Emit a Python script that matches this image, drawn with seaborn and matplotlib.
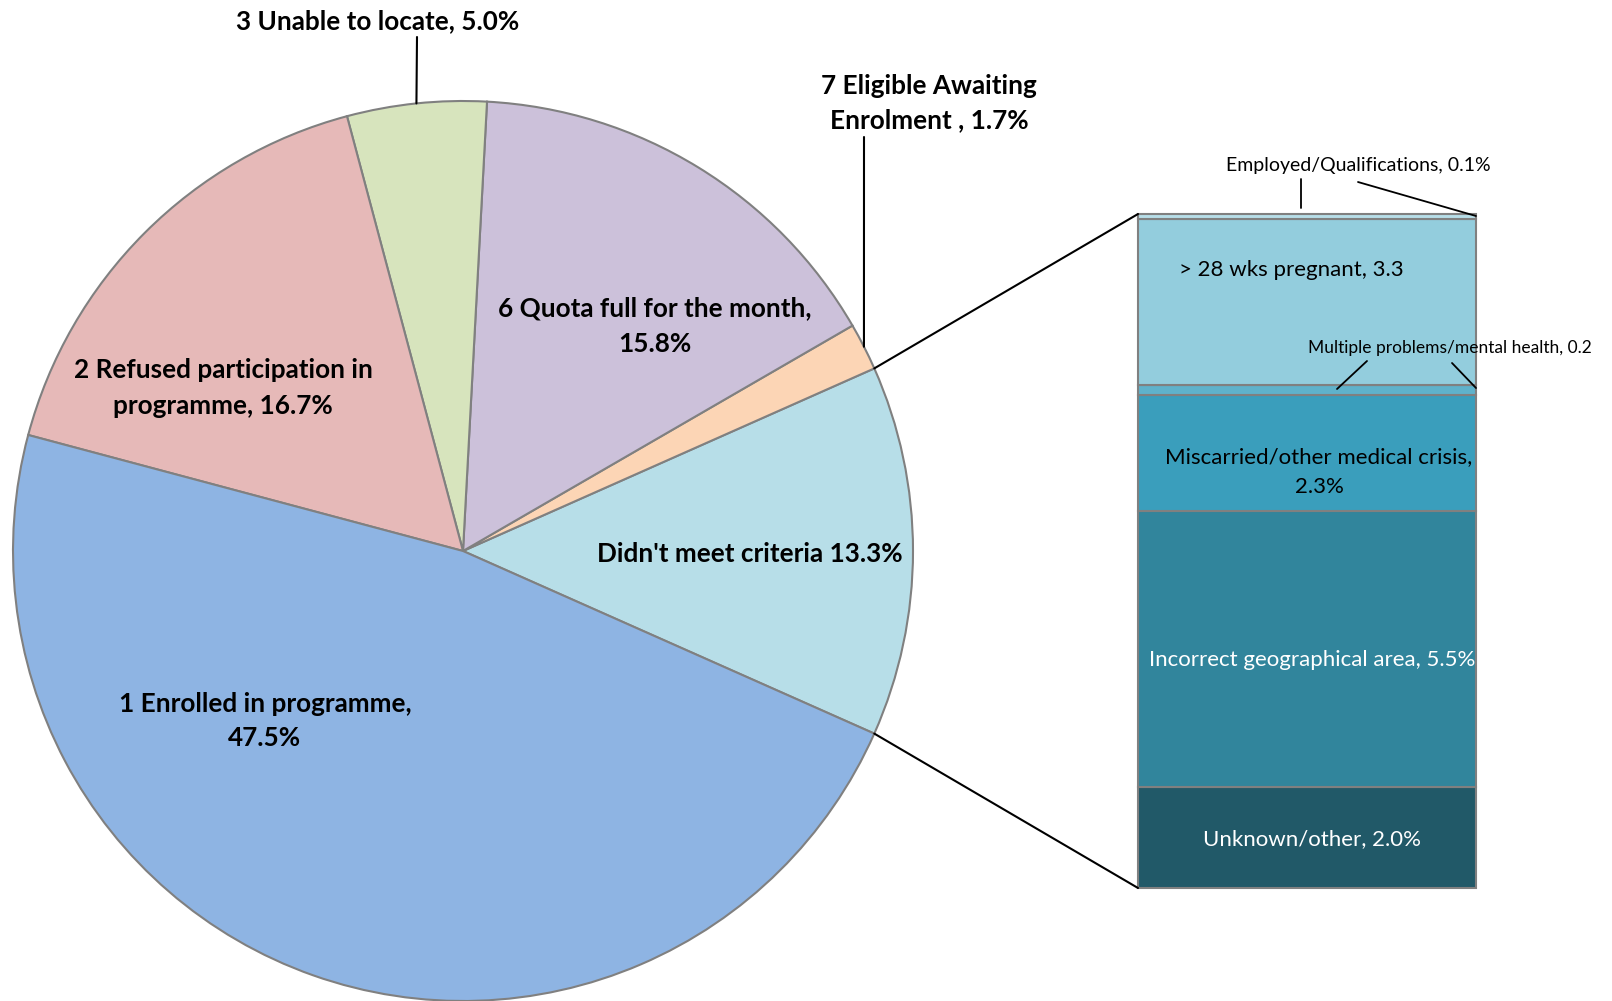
import numpy as np
import matplotlib.pyplot as plt
import seaborn as sns
from matplotlib.patches import ConnectionPatch
from matplotlib.lines import Line2D

# Pie data (counter-clockwise from the split-off slice)
pie_labels = ["Didn't meet criteria 13.3%",
              "7 Eligible Awaiting\nEnrolment , 1.7%",
              "6 Quota full for the month,\n15.8%",
              "3 Unable to locate, 5.0%",
              "2 Refused participation in\nprogramme, 16.7%",
              "1 Enrolled in programme,\n47.5%"]
pie_values = [13.3, 1.7, 15.8, 5.0, 16.7, 47.5]
pie_colors = ["#B7DEE8", "#FCD5B5", "#CCC1DA", "#D7E4BD", "#E6B9B8", "#8EB4E3"]

# Breakdown of "Didn't meet criteria" (bottom to top)
bar_labels = ["Unknown/other, 2.0%",
              "Incorrect geographical area, 5.5%",
              "Miscarried/other medical crisis,\n2.3%",
              "Multiple problems/mental health, 0.2",
              "> 28 wks pregnant, 3.3",
              "Employed/Qualifications, 0.1%"]
bar_values = [2.0, 5.5, 2.3, 0.2, 3.3, 0.1]
bar_colors = ["#215968", "#31859C", "#3A9EBC", "#5FB2CB", "#93CDDD", "#B7DEE8"]

W, H = 1612, 1001

def px(x, y):
    # pixel position (from top-left) to figure fraction
    return x / W, 1 - y / H

sns.set_theme(style="white")
plt.rcParams['font.family'] = ['Lato', 'DejaVu Sans']

fig = plt.figure(figsize=(W / 100, H / 100), dpi=100)
fig.patch.set_facecolor("white")

# pie axes: centre (463, 551), radius 450 px
ax_pie = fig.add_axes([13 / W, 0, 900 / W, 900 / H])
start = -pie_values[0] / 2 * 3.6
wedges, _ = ax_pie.pie(pie_values, colors=pie_colors, startangle=start,
                       counterclock=True, radius=1,
                       wedgeprops=dict(edgecolor="#808080", linewidth=1.5))
for w in wedges:
    w.set_clip_on(False)
ax_pie.set_xlim(-1, 1)
ax_pie.set_ylim(-1, 1)
ax_pie.axis("off")

# bar axes
ax_bar = fig.add_axes([1138 / W, (H - 888) / H, 338 / W, 674 / H])
bottoms = np.concatenate([[0], np.cumsum(bar_values)[:-1]])
ax_bar.bar([0] * len(bar_values), bar_values, bottom=bottoms, width=1,
           color=bar_colors, edgecolor="#808080", linewidth=1.5, clip_on=False)
ax_bar.set_xlim(-0.5, 0.5)
ax_bar.set_ylim(0, sum(bar_values))
ax_bar.axis("off")

# connector lines from the slice to the bar
t1, t2 = np.deg2rad(wedges[0].theta1), np.deg2rad(wedges[0].theta2)
for t, yb in [(t2, sum(bar_values)), (t1, 0)]:
    con = ConnectionPatch(xyA=(np.cos(t), np.sin(t)), coordsA=ax_pie.transData,
                          xyB=(-0.5, yb), coordsB=ax_bar.transData,
                          color="black", linewidth=1.5)
    fig.add_artist(con)

# pie labels
pie_pos = [(750, 554), (929, 103), (655, 326), (378, 21), (223, 388), (265, 721)]
for lab, (x, y) in zip(pie_labels, pie_pos):
    fig.text(*px(x, y), lab, ha="center", va="center", fontsize=18.8,
             fontweight="bold", color="black", linespacing=1.55)

# leader lines for the small pie labels
for i, (x0, y0) in [(3, (417, 37)), (1, (864, 137))]:
    w = wedges[i]
    mid = np.deg2rad((w.theta1 + w.theta2) / 2)
    fig.add_artist(ConnectionPatch(xyA=px(x0, y0), coordsA=fig.transFigure,
                                   xyB=(np.cos(mid), np.sin(mid)), coordsB=ax_pie.transData,
                                   color="black", linewidth=1.5))

# bar labels
bar_pos = [(1312, 839), (1312, 660), (1319, 472), (1450, 348), (1291, 270), (1358, 166)]
bar_text_col = ["white", "white", "black", "black", "black", "black"]
bar_fs = [16, 16, 16, 12.5, 16, 14]
for lab, (x, y), c, fs in zip(bar_labels, bar_pos, bar_text_col, bar_fs):
    fig.text(*px(x, y), lab, ha="center", va="center", fontsize=fs,
             color=c, linespacing=1.65)

for (xa, ya), (xb, yb) in [((1301, 179), (1301, 208)), ((1358, 182), (1476, 216)),
                           ((1367, 361), (1337, 389)), ((1452, 363), (1476, 388))]:
    (fxa, fya), (fxb, fyb) = px(xa, ya), px(xb, yb)
    fig.add_artist(Line2D([fxa, fxb], [fya, fyb], color="black", linewidth=1.3,
                          transform=fig.transFigure))

fig.savefig("out.png", dpi=100, facecolor="white")
